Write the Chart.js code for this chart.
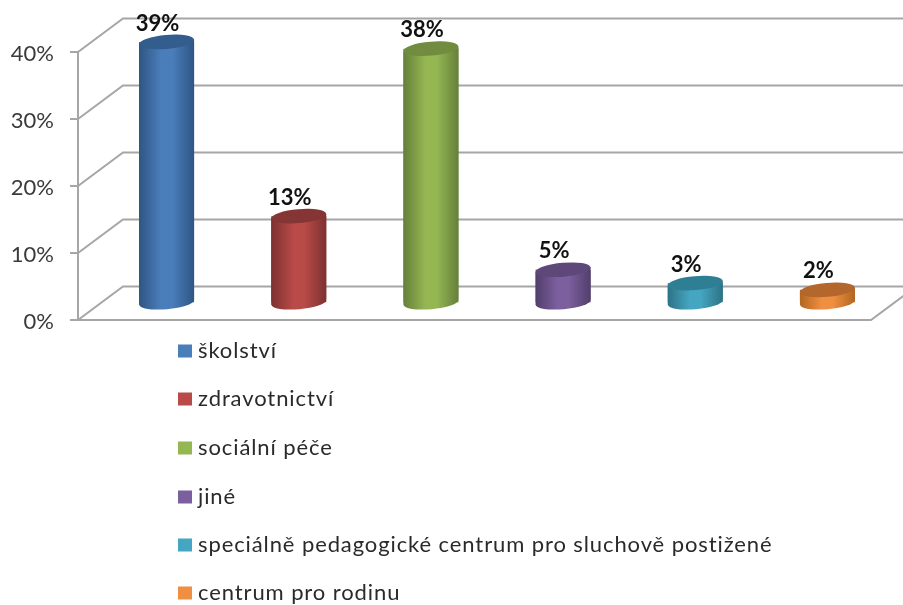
<!DOCTYPE html>
<html lang="cs">
<head>
<meta charset="utf-8">
<title>Graf</title>
<style>html,body{margin:0;padding:0;background:#fff}canvas{display:block}</style>
<script src="https://cdn.jsdelivr.net/npm/chart.js@4"></script>
</head>
<body>
<canvas id="c" width="903" height="605"></canvas>
<script>
const categories = ["školství","zdravotnictví","sociální péče","jiné","speciálně pedagogické centrum pro sluchově postižené","centrum pro rodinu"];
const values = [39,13,38,5,3,2];
const yTicks = [0,10,20,30,40];
const mainColors = ["#4a7ebb","#b94a47","#95b752","#7c5f9f","#44a6c0","#f08f42"];
const edgeColors = ["#2f5583","#7c3230","#65803a","#523f6c","#2d7286","#b2661f"];
const capColors  = ["#325d8c","#853533","#718c3e","#5e4879","#2f7f94","#b3672c"];
const swatchColors = ["#4a7ebb","#b94a47","#95b752","#7c5f9f","#44a6c0","#f08f42"];

const DEPTH_X = 45, DEPTH_Y = 33.5, BAR_PCT = 0.416, RY = 7, TILT = -5 * Math.PI / 180;
const LINE = "#a6a6a6";
const FONT = "Lato, 'Open Sans', sans-serif";

function grad(ctx, x, w, i) {
  const g = ctx.createLinearGradient(x - w / 2, 0, x + w / 2, 0);
  g.addColorStop(0, edgeColors[i]);
  g.addColorStop(0.4, mainColors[i]);
  g.addColorStop(0.6, mainColors[i]);
  g.addColorStop(1, edgeColors[i]);
  return g;
}
function ellipse(ctx, x, y, rx) {
  ctx.beginPath();
  ctx.ellipse(x, y, rx, RY, TILT, 0, Math.PI * 2);
  ctx.fill();
}

const wall3d = {
  id: "wall3d",
  beforeDatasetsDraw(chart) {
    const {ctx, chartArea: a, scales: {y}} = chart;
    ctx.save();
    ctx.strokeStyle = LINE;
    ctx.lineWidth = 2;
    yTicks.forEach(t => {
      const py = y.getPixelForValue(t);
      ctx.beginPath();
      ctx.moveTo(a.left, py);
      ctx.lineTo(a.left + DEPTH_X, py - DEPTH_Y);
      ctx.lineTo(a.right + DEPTH_X, py - DEPTH_Y);
      ctx.stroke();
    });
    const b = y.getPixelForValue(0);
    ctx.beginPath();
    ctx.moveTo(a.left, b);
    ctx.lineTo(a.right, b);
    ctx.lineTo(a.right + DEPTH_X, b - DEPTH_Y);
    ctx.stroke();
    ctx.restore();
  }
};

const cylinders = {
  id: "cylinders",
  beforeDatasetDraw(chart) {
    const {ctx} = chart;
    ctx.save();
    ctx.translate(DEPTH_X / 2, -DEPTH_Y / 2);
  },
  afterDatasetDraw(chart, args) {
    const {ctx} = chart, meta = chart.getDatasetMeta(args.index);
    meta.data.forEach((el, i) => {
      const rx = el.width / 2, dy = rx * Math.sin(TILT);
      ctx.fillStyle = grad(ctx, el.x, el.width, i);
      ctx.beginPath();
      ctx.moveTo(el.x - rx, el.y - dy);
      ctx.lineTo(el.x + rx, el.y + dy);
      ctx.lineTo(el.x + rx, el.base + dy);
      ctx.lineTo(el.x - rx, el.base - dy);
      ctx.closePath();
      ctx.fill();
      ellipse(ctx, el.x, el.base, rx);
      ctx.fillStyle = capColors[i];
      ellipse(ctx, el.x, el.y, rx);
    });
    ctx.restore();
  }
};

const labelsAndLegend = {
  id: "labelsAndLegend",
  afterDraw(chart) {
    const {ctx} = chart, meta = chart.getDatasetMeta(0);
    ctx.save();
    ctx.textAlign = "center";
    ctx.textBaseline = "middle";
    ctx.fillStyle = "#111";
    ctx.font = "bold 22px " + FONT;
    meta.data.forEach((el, i) => {
      ctx.fillText(values[i] + "%", el.x + DEPTH_X / 2 - 9, el.y - DEPTH_Y / 2 - 18.5);
    });
    ctx.textAlign = "left";
    ctx.font = "22px " + FONT;
    ctx.letterSpacing = "0.9px";
    const rows = [351, 399, 448, 497, 545, 593];
    categories.forEach((c, i) => {
      ctx.fillStyle = swatchColors[i];
      ctx.fillRect(178, rows[i] - 6.5, 14, 13);
      ctx.fillStyle = "#2a2a2a";
      ctx.fillText(c, 198, rows[i]);
    });
    ctx.restore();
  }
};

new Chart(document.getElementById("c"), {
  type: "bar",
  data: {
    labels: categories,
    datasets: [{
      data: values,
      clip: false,
      borderWidth: 0,
      barPercentage: BAR_PCT,
      categoryPercentage: 1,
      backgroundColor(c) {
        const chart = c.chart;
        if (!chart.chartArea || c.dataIndex === undefined) return mainColors[0];
        const w = chart.chartArea.width / categories.length * BAR_PCT;
        return grad(chart.ctx, chart.scales.x.getPixelForValue(c.dataIndex), w, c.dataIndex);
      }
    }]
  },
  plugins: [wall3d, cylinders, labelsAndLegend],
  options: {
    responsive: false,
    animation: false,
    layout: {padding: {left: 0, right: 32, top: 52, bottom: 285}},
    plugins: {legend: {display: false}, tooltip: {enabled: false}},
    scales: {
      x: {display: false},
      y: {
        min: 0,
        max: 40,
        afterFit(s) { s.width = 78; },
        afterBuildTicks(s) { s.ticks = yTicks.map(v => ({value: v})); },
        border: {color: LINE, width: 2},
        grid: {drawOnChartArea: false, color: LINE, lineWidth: 2, tickLength: 8},
        ticks: {
          padding: 16,
          labelOffset: 1.5,
          color: "#3a3a3a",
          font: {family: FONT, size: 22},
          callback: v => v + "%"
        }
      }
    }
  }
});
</script>
</body>
</html>
